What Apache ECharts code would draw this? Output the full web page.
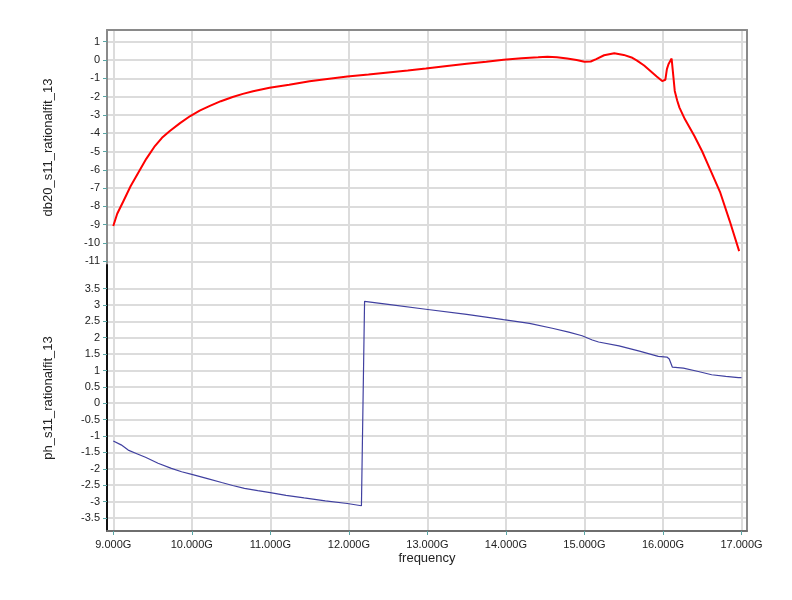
<!DOCTYPE html>
<html><head><meta charset="utf-8">
<script src="https://cdn.jsdelivr.net/npm/echarts@6/dist/echarts.min.js"></script>
<style>html,body{margin:0;padding:0;background:#fff}#c{width:792px;height:600px}</style>
</head><body><div id="c"></div>
<script>
// Frequency (GHz) and values for db20_s11_rationalfit_13
const redFreq = [9.0,9.05,9.13,9.22,9.32,9.42,9.53,9.62,9.72,9.85,9.98,10.1,10.23,10.37,10.52,10.65,10.78,10.99,11.24,11.5,11.75,11.98,12.25,12.5,12.75,12.98,13.25,13.5,13.75,13.97,14.2,14.41,14.53,14.65,14.78,14.9,15.0,15.08,15.15,15.25,15.38,15.5,15.6,15.67,15.76,15.84,15.92,15.99,16.03,16.05,16.07,16.11,16.13,16.15,16.18,16.21,16.28,16.4,16.5,16.6,16.73,16.85,16.97];
const redVals = [-9.07,-8.4,-7.7,-6.9,-6.15,-5.4,-4.7,-4.25,-3.88,-3.45,-3.06,-2.77,-2.51,-2.25,-2.02,-1.85,-1.71,-1.52,-1.35,-1.16,-1.02,-0.9,-0.79,-0.68,-0.57,-0.46,-0.33,-0.21,-0.09,0.02,0.1,0.15,0.18,0.15,0.08,0.0,-0.09,-0.08,0.05,0.26,0.37,0.28,0.14,-0.03,-0.3,-0.6,-0.9,-1.15,-1.08,-0.5,-0.23,0.08,-0.8,-1.69,-2.2,-2.6,-3.24,-4.15,-5.0,-5.97,-7.25,-8.8,-10.44];
// Frequency (GHz) and values for ph_s11_rationalfit_13
const blueFreq = [9.0,9.1,9.19,9.3,9.41,9.57,9.74,9.87,10.0,10.2,10.38,10.52,10.67,10.84,11.0,11.2,11.43,11.7,11.98,12.16,12.2,12.5,12.98,13.5,13.97,14.3,14.59,14.8,14.97,15.1,15.18,15.44,15.7,15.94,16.05,16.08,16.12,16.26,16.45,16.62,16.8,16.96,17.0];
const blueVals = [-1.15,-1.27,-1.43,-1.54,-1.65,-1.83,-1.99,-2.09,-2.17,-2.3,-2.42,-2.51,-2.6,-2.67,-2.73,-2.81,-2.89,-2.98,-3.06,-3.13,3.11,3.02,2.87,2.71,2.55,2.44,2.29,2.17,2.06,1.93,1.87,1.75,1.59,1.43,1.41,1.35,1.1,1.07,0.97,0.87,0.82,0.78,0.78];
// tick labels
const xTicks = [9,10,11,12,13,14,15,16,17];
const topTicks = [-11,-10,-9,-8,-7,-6,-5,-4,-3,-2,-1,0,1];
const botTicks = [-3.5,-3,-2.5,-2,-1.5,-1,-0.5,0,0.5,1,1.5,2,2.5,3,3.5];

const FONT = 'Liberation Sans';
const gridCol = '#dcdcdc';
const tickCol = '#5aa5a5';
const chart = echarts.init(document.getElementById('c'), null, {renderer:'canvas'});
const xCommon = {
  type:'value', min:8.92, max:17.07,
  splitLine:{show:true, lineStyle:{color:gridCol, width:2}},
};
const option = {
  animation:false,
  backgroundColor:'#fff',
  grid:[
    {left:107, top:30, width:640, height:235, containLabel:false},
    {left:107, top:265, width:640, height:266, containLabel:false}
  ],
  xAxis:[
    Object.assign({}, xCommon, {gridIndex:0, position:'top',
      axisLine:{show:true, onZero:false, lineStyle:{color:'#8a8a8a', width:2}},
      axisTick:{show:false, customValues:xTicks},
      axisLabel:{show:false, customValues:xTicks}}),
    Object.assign({}, xCommon, {gridIndex:1, position:'bottom',
      axisLine:{show:true, onZero:false, lineStyle:{color:'#6e6e6e', width:2}},
      axisTick:{show:true, length:4, customValues:xTicks, lineStyle:{color:tickCol}},
      axisLabel:{show:true, customValues:xTicks, margin:8, fontFamily:FONT, fontSize:11, color:'#222',
        formatter:v=>v.toFixed(3)+'G'},
      name:'frequency', nameLocation:'middle', nameGap:21,
      nameTextStyle:{fontFamily:FONT, fontSize:13, color:'#222'}})
  ],
  yAxis:[
    {type:'value', gridIndex:0, min:-11.2, max:1.64, position:'left',
      axisLine:{show:true, onZero:false, lineStyle:{color:'#8a8a8a', width:2}},
      axisTick:{show:true, length:4, customValues:topTicks, lineStyle:{color:tickCol}},
      axisLabel:{show:true, customValues:topTicks, margin:7, fontFamily:FONT, fontSize:11, color:'#222'},
      splitLine:{show:true, lineStyle:{color:gridCol, width:2}},
      name:'db20_s11_rationalfit_13', nameLocation:'middle', nameGap:52,
      nameTextStyle:{fontFamily:FONT, fontSize:13, color:'#222'}},
    {type:'value', gridIndex:0, min:-11.2, max:1.64, position:'right',
      axisLine:{show:true, onZero:false, lineStyle:{color:'#8a8a8a', width:2}},
      axisTick:{show:false}, axisLabel:{show:false}, splitLine:{show:false}},
    {type:'value', gridIndex:1, min:-3.9, max:4.22, position:'left',
      axisLine:{show:true, onZero:false, lineStyle:{color:'#111', width:2}},
      axisTick:{show:true, length:4, customValues:botTicks, lineStyle:{color:tickCol}},
      axisLabel:{show:true, customValues:botTicks, margin:7, fontFamily:FONT, fontSize:11, color:'#222'},
      splitLine:{show:true, lineStyle:{color:gridCol, width:2}},
      name:'ph_s11_rationalfit_13', nameLocation:'middle', nameGap:52,
      nameTextStyle:{fontFamily:FONT, fontSize:13, color:'#222'}},
    {type:'value', gridIndex:1, min:-3.9, max:4.22, position:'right',
      axisLine:{show:true, onZero:false, lineStyle:{color:'#8a8a8a', width:2}},
      axisTick:{show:false}, axisLabel:{show:false}, splitLine:{show:false}}
  ],
  series:[
    {type:'line', xAxisIndex:0, yAxisIndex:0, symbol:'none', smooth:false,
      lineStyle:{color:'#ff0000', width:2}, data:redFreq.map((f,i)=>[f, redVals[i]])},
    {type:'line', xAxisIndex:1, yAxisIndex:2, symbol:'none', smooth:false,
      lineStyle:{color:'#4040a0', width:1.2}, data:blueFreq.map((f,i)=>[f, blueVals[i]])}
  ]
};
chart.setOption(option);
</script></body></html>
